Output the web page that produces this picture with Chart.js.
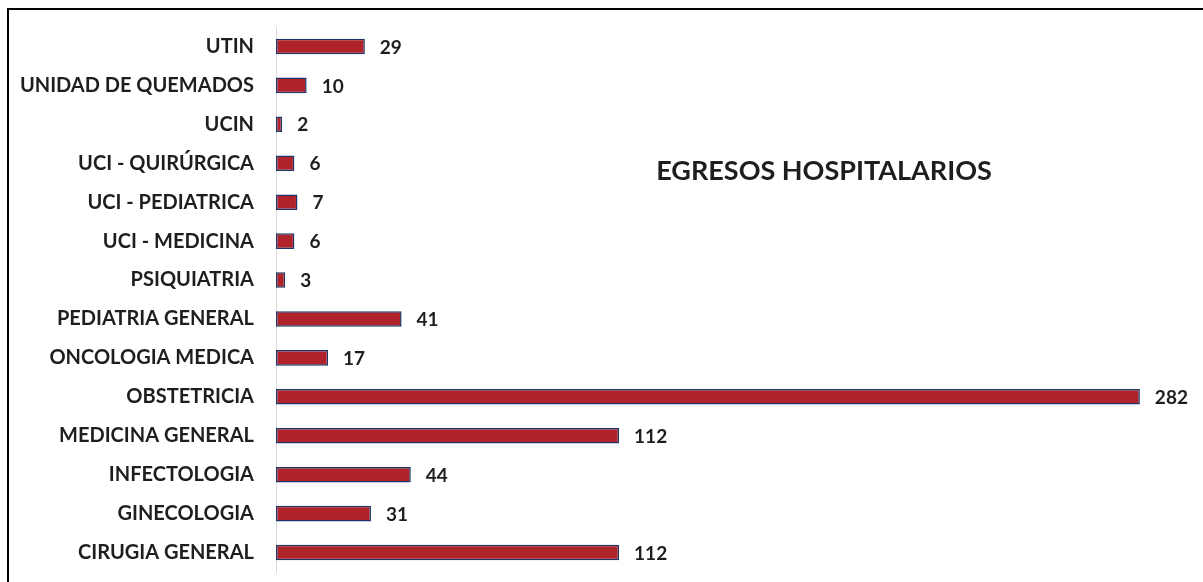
<!DOCTYPE html>
<html>
<head>
<meta charset="utf-8">
<script src="https://cdn.jsdelivr.net/npm/chart.js@4"></script>
<style>
  html, body { margin: 0; padding: 0; background: #fff; }
  #wrap { position: relative; width: 1203px; height: 582px; }
  #frame { position: absolute; left: 7px; top: 8px; right: 0; bottom: 0;
           border-top: 2px solid #000; border-left: 2px solid #000; pointer-events: none; }
</style>
</head>
<body>
<div id="wrap">
  <canvas id="chart" width="1203" height="582"></canvas>
  <div id="frame"></div>
</div>
<script>
const categories = [
  "UTIN", "UNIDAD DE QUEMADOS", "UCIN", "UCI - QUIRÚRGICA", "UCI - PEDIATRICA",
  "UCI - MEDICINA", "PSIQUIATRIA", "PEDIATRIA GENERAL", "ONCOLOGIA MEDICA",
  "OBSTETRICIA", "MEDICINA GENERAL", "INFECTOLOGIA", "GINECOLOGIA", "CIRUGIA GENERAL",
];
const egresos = [29, 10, 2, 6, 7, 6, 3, 41, 17, 282, 112, 44, 31, 112];
const chartTitle = "EGRESOS HOSPITALARIOS";

const FONT = "Lato, 'Open Sans', sans-serif";

// value labels next to each bar + the floating title
const labelsPlugin = {
  id: "labels",
  afterDatasetsDraw(chart) {
    const ctx = chart.ctx;
    ctx.save();
    ctx.fillStyle = "#1e1e1e";
    ctx.font = "bold 19px " + FONT;
    ctx.textBaseline = "middle";
    ctx.textAlign = "left";
    chart.getDatasetMeta(0).data.forEach((bar, i) => {
      ctx.fillText(String(egresos[i]), bar.x + 15, bar.y + 1);
    });
    ctx.font = "bold 27px " + FONT;
    ctx.textAlign = "center";
    ctx.fillText(chartTitle, 824, 171);
    ctx.restore();
  },
};

new Chart(document.getElementById("chart"), {
  type: "bar",
  data: {
    labels: categories,
    datasets: [{
      data: egresos,
      backgroundColor: "#b0232a",
      borderColor: "#1f3568",
      borderWidth: 1.5,
      borderSkipped: false,
      barPercentage: 0.8,
      categoryPercentage: 0.5,
    }],
  },
  options: {
    indexAxis: "y",
    responsive: false,
    animation: false,
    layout: { padding: { top: 27, bottom: 10, right: 8, left: 0 } },
    plugins: { legend: { display: false }, tooltip: { enabled: false } },
    scales: {
      x: { display: false, min: 0, max: 300 },
      y: {
        afterFit(scale) {
          scale.width = 276;
          scale.paddingTop = 0;
          scale.paddingBottom = 0;
        },
        border: { display: true, color: "#d9d9d9", width: 1 },
        grid: { display: false },
        ticks: { color: "#1e1e1e", padding: 14, font: { family: FONT, size: 20, weight: "bold" } },
      },
    },
  },
  plugins: [labelsPlugin],
});
</script>
</body>
</html>
